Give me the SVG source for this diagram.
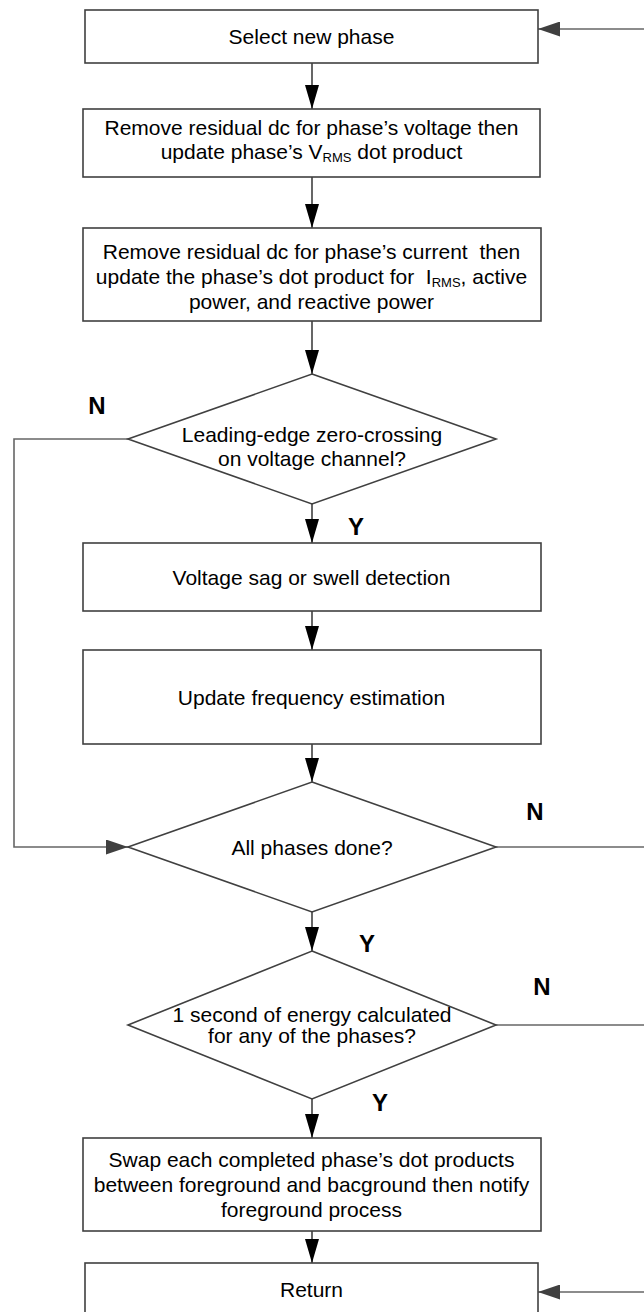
<svg xmlns="http://www.w3.org/2000/svg" width="644" height="1312" viewBox="0 0 644 1312">
<style>
.box{fill:#ffffff;stroke:#404040;stroke-width:1.6}
.t{font-family:"Liberation Sans",Arial,sans-serif;font-size:21px;fill:#000;text-anchor:middle;white-space:pre}
.lbl{font-family:"Liberation Sans",Arial,sans-serif;font-size:24px;font-weight:bold;fill:#000;text-anchor:middle}
.v{stroke:#000;stroke-width:1.2;fill:none}
.h{stroke:#666;stroke-width:1.6;fill:none}
</style>
<defs>
<marker id="av" viewBox="0 0 24 14" refX="24" refY="7" markerWidth="24" markerHeight="14" markerUnits="userSpaceOnUse" orient="auto">
<path d="M0,0 L24,7 L0,14 z" fill="#000"/>
</marker>
<marker id="ah" viewBox="0 0 22 15" refX="22" refY="7.5" markerWidth="22" markerHeight="15" markerUnits="userSpaceOnUse" orient="auto">
<path d="M0,0 L22,7.5 L0,15 z" fill="#404040"/>
</marker>
</defs>
<rect width="644" height="1312" fill="#ffffff"/>
<g id="connectors">
<line class="v" x1="312" y1="63" x2="312" y2="109" marker-end="url(#av)"/>
<line class="v" x1="312" y1="177" x2="312" y2="228" marker-end="url(#av)"/>
<line class="v" x1="312" y1="321" x2="312" y2="374" marker-end="url(#av)"/>
<line class="v" x1="312" y1="504" x2="312" y2="543" marker-end="url(#av)"/>
<line class="v" x1="312" y1="611" x2="312" y2="650" marker-end="url(#av)"/>
<line class="v" x1="312" y1="744" x2="312" y2="782" marker-end="url(#av)"/>
<line class="v" x1="312" y1="912" x2="312" y2="951" marker-end="url(#av)"/>
<line class="v" x1="312" y1="1099" x2="312" y2="1138" marker-end="url(#av)"/>
<line class="v" x1="312" y1="1231" x2="312" y2="1263" marker-end="url(#av)"/>
<polyline class="h" points="128,439 14,439 14,847 128,847" marker-end="url(#ah)"/>
<line class="h" x1="496" y1="847" x2="650" y2="847"/>
<line class="h" x1="496" y1="1025" x2="650" y2="1025"/>
<line class="h" x1="650" y1="29" x2="538" y2="29" marker-end="url(#ah)"/>
<line class="h" x1="650" y1="1292" x2="538" y2="1292" marker-end="url(#ah)"/>
<text class="lbl" x="97" y="414">N</text>
<text class="lbl" x="356" y="535">Y</text>
<text class="lbl" x="535" y="820">N</text>
<text class="lbl" x="367" y="952">Y</text>
<text class="lbl" x="542" y="995">N</text>
<text class="lbl" x="380" y="1111">Y</text>
</g>
<g id="select">
<rect class="box" x="85" y="10" width="453" height="53"/>
<text class="t" x="311.5" y="44">Select new phase</text>
</g>
<g id="remove-v">
<rect class="box" x="83" y="109" width="457" height="68"/>
<text class="t" x="311.5" y="135">Remove residual dc for phase’s voltage then</text>
<text class="t" x="311.5" y="159">update phase’s V<tspan font-size="13" dy="3">RMS</tspan><tspan dy="-3"> dot product</tspan></text>
</g>
<g id="remove-i">
<rect class="box" x="83" y="228" width="458" height="93"/>
<text class="t" x="311.5" y="259">Remove residual dc for phase’s current  then</text>
<text class="t" x="311.5" y="284">update the phase’s dot product for  I<tspan font-size="13" dy="3">RMS</tspan><tspan dy="-3">, active</tspan></text>
<text class="t" x="311.5" y="309">power, and reactive power</text>
</g>
<g id="zero-cross">
<polygon class="box" points="312,374 496,439 312,504 128,439"/>
<text class="t" x="312" y="442">Leading-edge zero-crossing</text>
<text class="t" x="312" y="466">on voltage channel?</text>
</g>
<g id="sag">
<rect class="box" x="83" y="543" width="458" height="68"/>
<text class="t" x="311.5" y="584.5">Voltage sag or swell detection</text>
</g>
<g id="freq">
<rect class="box" x="83" y="650" width="458" height="94"/>
<text class="t" x="311.5" y="704.5">Update frequency estimation</text>
</g>
<g id="all-done">
<polygon class="box" points="312,782 496,847 312,912 128,847"/>
<text class="t" x="312" y="855">All phases done?</text>
</g>
<g id="one-second">
<polygon class="box" points="312,951 496,1025 312,1099 128,1025"/>
<text class="t" x="312" y="1022">1 second of energy calculated</text>
<text class="t" x="312" y="1043">for any of the phases?</text>
</g>
<g id="swap">
<rect class="box" x="83" y="1138" width="458" height="93"/>
<text class="t" x="311.5" y="1167">Swap each completed phase’s dot products</text>
<text class="t" x="311.5" y="1192">between foreground and bacground then notify</text>
<text class="t" x="311.5" y="1217">foreground process</text>
</g>
<g id="return">
<rect class="box" x="85" y="1263" width="453" height="53"/>
<text class="t" x="311.5" y="1297">Return</text>
</g>
</svg>
